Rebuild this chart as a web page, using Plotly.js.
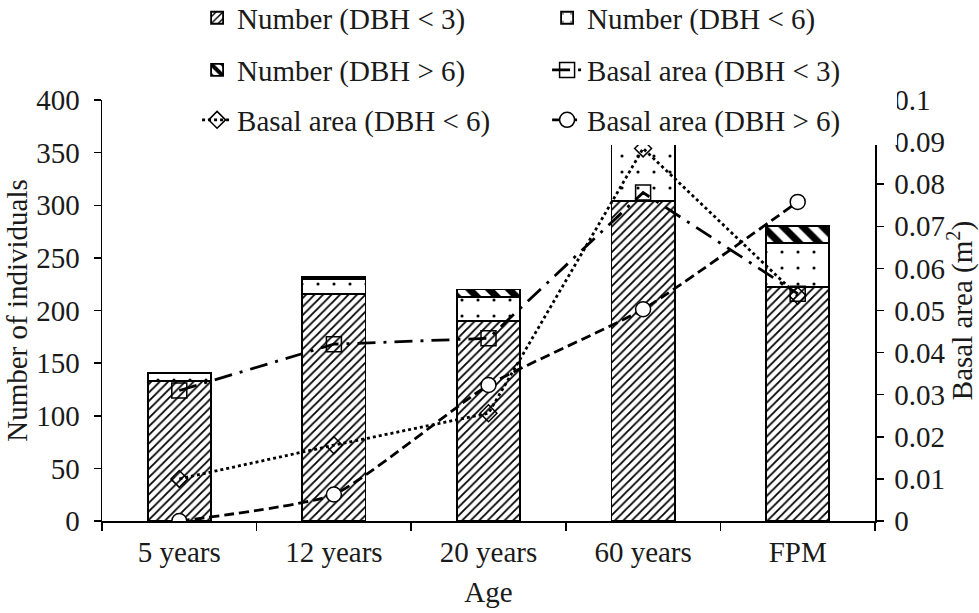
<!DOCTYPE html>
<html>
<head>
<meta charset="utf-8">
<script src="https://cdn.plot.ly/plotly-3.0.1.min.js"></script>
<style>html,body{margin:0;padding:0;background:#fff;}#chart{width:979px;height:613px;}</style>
</head>
<body>
<div id="chart"></div>
<script>
// ---- data ----
var categories = ['5 years', '12 years', '20 years', '60 years', 'FPM'];
var numDBHlt3 = [133, 216, 190, 304, 222];
var numDBHlt6 = [8, 14, 23, 60, 42];
var numDBHgt6 = [0, 2, 7, 6, 16];
var baDBHlt3 = [0.031, 0.042, 0.0434, 0.078, 0.054];
var baDBHlt6 = [0.010, 0.018, 0.0256, 0.0885, 0.0535];
var baDBHgt6 = [0, 0.0063, 0.0323, 0.0503, 0.0758];

var FONT = 'Liberation Serif';
var FS = 29;
var INK = '#1a1a1a';
var barLine = {color: '#000', width: 1.8};

var traces = [
  {type: 'bar', name: 'Number (DBH < 3)', x: categories, y: numDBHlt3, legend: 'legend',
   marker: {color: '#fff', line: barLine, pattern: {shape: '/', fgcolor: '#000', bgcolor: '#fff', size: 6, solidity: 0.3}}},
  {type: 'bar', name: 'Number (DBH < 6)', x: categories, y: numDBHlt6, legend: 'legend',
   marker: {color: '#fff', line: barLine, pattern: {shape: '.', fgcolor: '#000', bgcolor: '#fff', size: 16, solidity: 0.03}}},
  {type: 'bar', name: 'Number (DBH > 6)', x: categories, y: numDBHgt6, legend: 'legend2',
   marker: {color: '#fff', line: barLine, pattern: {shape: '\\', fgcolor: '#000', bgcolor: '#fff', size: 14, solidity: 0.5}}},
  {type: 'scatter', mode: 'lines+markers', name: 'Basal area (DBH < 3)', x: categories, y: baDBHlt3, yaxis: 'y2', legend: 'legend2',
   line: {color: '#000', width: 2.8, dash: '18px,8px,3px,8px'},
   marker: {symbol: 'square-open', size: 15, color: '#000', line: {width: 1.5, color: '#000'}}},
  {type: 'scatter', mode: 'lines+markers', name: 'Basal area (DBH < 6)', x: categories, y: baDBHlt6, yaxis: 'y2', legend: 'legend3',
   line: {color: '#000', width: 2.8, dash: 'dot'},
   marker: {symbol: 'diamond-open', size: 13, color: '#000', line: {width: 1.5, color: '#000'}}},
  {type: 'scatter', mode: 'lines+markers', name: 'Basal area (DBH > 6)', x: categories, y: baDBHgt6, yaxis: 'y2', legend: 'legend3',
   line: {color: '#000', width: 2.8, dash: '10px,5px', shape: 'spline', smoothing: 0.5},
   marker: {symbol: 'circle', size: 15, color: '#fff', line: {width: 1.5, color: '#000'}}}
];

var legendBase = {
  orientation: 'h', xref: 'paper', yref: 'paper', xanchor: 'left', yanchor: 'middle',
  x: 0.123, bgcolor: 'rgba(255,255,255,1)', borderwidth: 0,
  font: {family: FONT, size: FS, color: INK},
  entrywidth: 305, entrywidthmode: 'pixels', traceorder: 'normal'
};
function leg(y) { var o = JSON.parse(JSON.stringify(legendBase)); o.y = y; return o; }

var layout = {
  width: 979, height: 613,
  margin: {l: 102, r: 104, t: 100, b: 92, autoexpand: false},
  paper_bgcolor: '#fff', plot_bgcolor: '#fff',
  font: {family: FONT, size: FS, color: INK},
  barmode: 'stack', bargap: 0.59,
  showlegend: true,
  legend: leg(1.195),
  legend2: leg(1.071),
  legend3: leg(0.9525),
  xaxis: {
    type: 'category', showline: true, linecolor: '#000', linewidth: 1.5,
    ticks: 'outside', tickson: 'boundaries', ticklen: 8, tickcolor: '#000', tickwidth: 1.5,
    tickfont: {family: FONT, size: FS, color: INK}, showgrid: false, zeroline: false,
    ticklabelstandoff: 5, automargin: false,
    title: {text: 'Age', font: {family: FONT, size: FS, color: INK}, standoff: 14}
  },
  yaxis: {
    range: [0, 400], dtick: 50, showline: true, linecolor: '#000', linewidth: 1.5,
    ticks: 'outside', ticklen: 7, tickcolor: '#000', tickwidth: 1.5,
    tickfont: {family: FONT, size: FS, color: INK}, showgrid: false, zeroline: false,
    ticklabelstandoff: 8, automargin: false,
    title: {text: 'Number of individuals', font: {family: FONT, size: FS, color: INK}, standoff: 0}
  },
  yaxis2: {
    overlaying: 'y', side: 'right', range: [0, 0.1], dtick: 0.01,
    showline: true, linecolor: '#000', linewidth: 1.5,
    ticks: 'outside', ticklen: 7, tickcolor: '#000', tickwidth: 1.5,
    tickfont: {family: FONT, size: FS, color: INK}, showgrid: false, zeroline: false,
    ticklabelstandoff: 5, automargin: false,
    title: {text: 'Basal area (m<sup>2</sup>)', font: {family: FONT, size: FS, color: INK}, standoff: 0}
  }
};

Plotly.newPlot('chart', traces, layout, {displayModeBar: false, staticPlot: true});
</script>
</body>
</html>
